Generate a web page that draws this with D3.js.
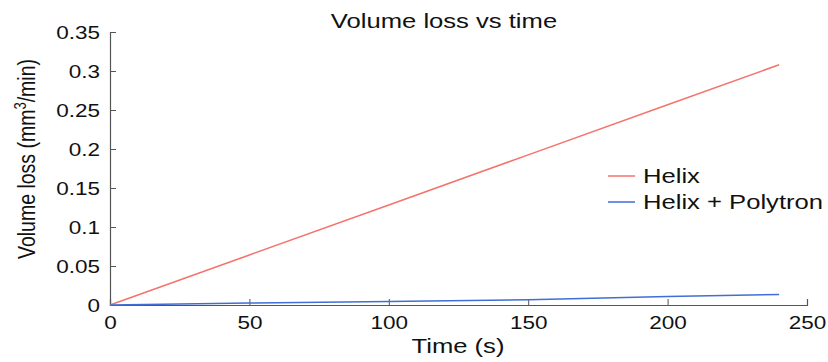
<!DOCTYPE html>
<html>
<head>
<meta charset="utf-8">
<script src="https://cdn.jsdelivr.net/npm/d3@7"></script>
<style>
  body { margin: 0; background: #fff; }
  text { font-family: "Liberation Sans", Arial, sans-serif; fill: #111; }
</style>
</head>
<body>
<div id="chart-area"></div>
<script>
const times = [0, 50, 100, 150, 200, 240]
const helix = [0, 0.0642, 0.1283, 0.1925, 0.2567, 0.308]
const helixPolytron = [0, 0.0026, 0.0046, 0.0068, 0.011, 0.0135]
const xTicks = [0, 50, 100, 150, 200, 250]
const yTicks = [0, 0.05, 0.1, 0.15, 0.2, 0.25, 0.3, 0.35]
const seriesNames = ["Helix", "Helix + Polytron"]
const seriesColors = ["#f4736b", "#3f6fd6"]

// the original figure is stretched sideways, so text gets a horizontal scale
const STRETCH = 1.25

const MARGIN = { LEFT: 110, RIGHT: 21, TOP: 32, BOTTOM: 57 }
const W = 828, H = 362
const WIDTH = W - MARGIN.LEFT - MARGIN.RIGHT
const HEIGHT = H - MARGIN.TOP - MARGIN.BOTTOM

const svg = d3.select("#chart-area").append("svg")
    .attr("width", W)
    .attr("height", H)

const g = svg.append("g")
    .attr("transform", `translate(${MARGIN.LEFT}, ${MARGIN.TOP})`)

// Scales
const x = d3.scaleLinear().domain([0, 250]).range([0, WIDTH])
const y = d3.scaleLinear().domain([0, 0.35]).range([HEIGHT, 0])

// Axes (ticks pointing inward, matlab style)
const xAxis = g.append("g")
    .attr("transform", `translate(0, ${HEIGHT})`)
    .call(d3.axisBottom(x).tickValues(xTicks).tickSize(-6).tickFormat(d3.format("d")))
const yAxis = g.append("g")
    .call(d3.axisLeft(y).tickValues(yTicks).tickSize(-6).tickFormat(d => d === 0 ? "0" : String(+d.toFixed(2))))

;[xAxis, yAxis].forEach(a => {
    a.select(".domain").attr("stroke", "#555").attr("stroke-width", 1.2)
    a.selectAll(".tick line").attr("stroke", "#555")
    a.selectAll(".tick text").attr("font-size", "18px").attr("fill", "#111")
        .attr("font-family", "Liberation Sans, Arial, sans-serif")
})
xAxis.selectAll(".tick text")
    .attr("y", 0).attr("dy", 0)
    .attr("transform", `translate(0, 24) scale(${STRETCH}, 1)`)
yAxis.selectAll(".tick text")
    .attr("x", 0)
    .attr("transform", `translate(-10, 1) scale(${STRETCH}, 1)`)

// Lines
const line = d3.line().x((d, i) => x(times[i])).y(d => y(d))
;[helix, helixPolytron].forEach((s, i) => {
    g.append("path")
        .datum(s)
        .attr("fill", "none")
        .attr("stroke", seriesColors[i])
        .attr("stroke-width", 1.5)
        .attr("d", line)
})

// Title and labels
svg.append("text")
    .attr("transform", `translate(444, 28) scale(${STRETCH}, 1)`)
    .attr("text-anchor", "middle")
    .attr("font-size", "20.5px")
    .text("Volume loss vs time")

svg.append("text")
    .attr("transform", `translate(458, 353) scale(${STRETCH}, 1)`)
    .attr("text-anchor", "middle")
    .attr("font-size", "20.5px")
    .text("Time (s)")

const yLabel = svg.append("text")
    .attr("transform", `translate(35, 159) rotate(-90) scale(1, ${STRETCH})`)
    .attr("text-anchor", "middle")
    .attr("font-size", "19.5px")
yLabel.append("tspan").text("Volume loss (mm")
yLabel.append("tspan").attr("font-size", "13px").attr("dy", "-7").text("3")
yLabel.append("tspan").attr("dy", "7").text("/min)")

// Legend
const legend = svg.append("g").attr("transform", "translate(608, 176)")
seriesNames.forEach((name, i) => {
    const row = legend.append("g").attr("transform", `translate(0, ${i * 26})`)
    row.append("line")
        .attr("x1", 0).attr("x2", 27).attr("y1", 0).attr("y2", 0)
        .attr("stroke", seriesColors[i]).attr("stroke-width", 1.5)
    row.append("text")
        .attr("transform", `translate(35, 0) scale(${STRETCH}, 1)`)
        .attr("dy", "0.35em")
        .attr("font-size", "20.5px")
        .text(name)
})
</script>
</body>
</html>
